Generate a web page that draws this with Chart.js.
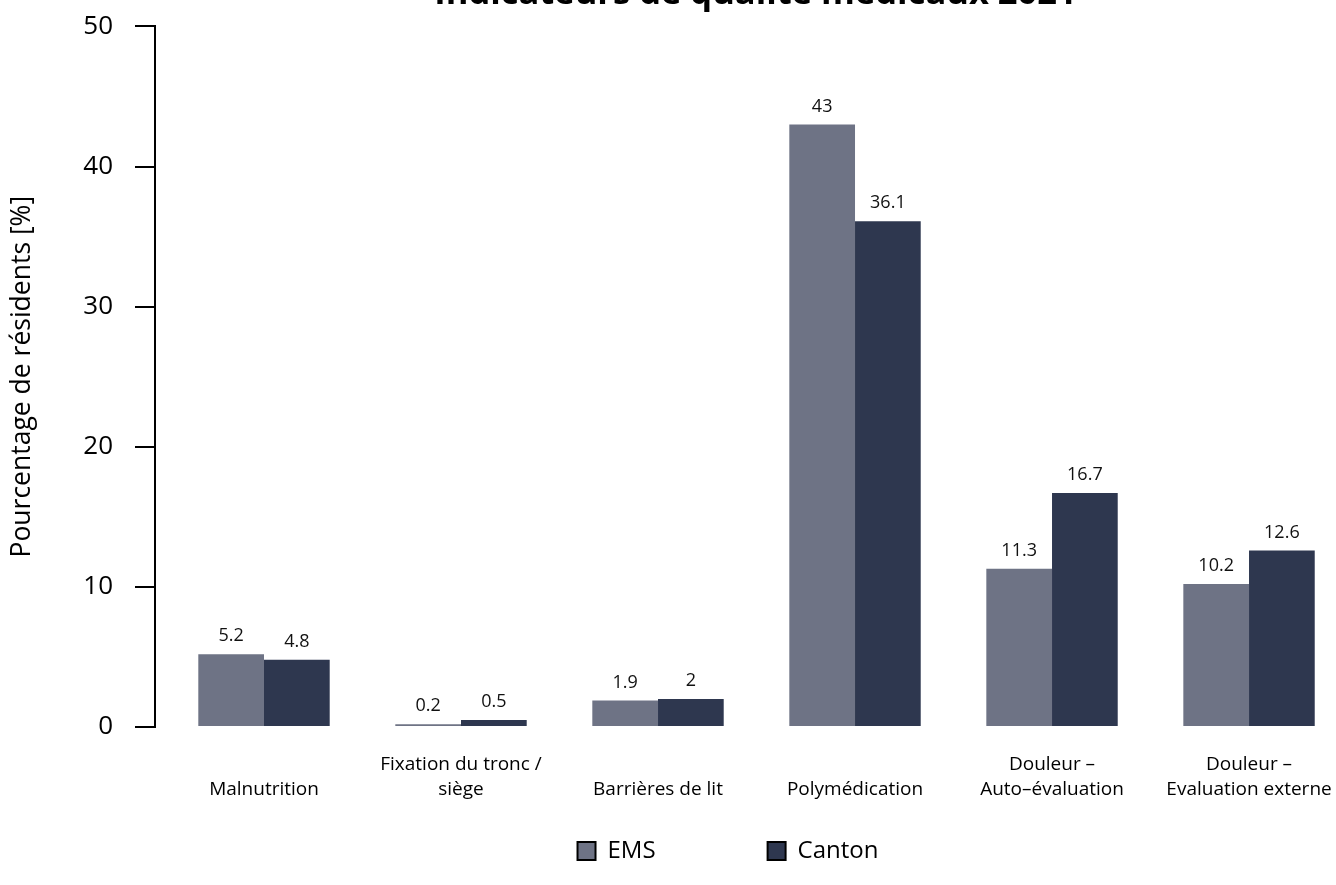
<!DOCTYPE html>
<html><head><meta charset="utf-8">
<script src="https://cdn.jsdelivr.net/npm/chart.js@4.4.1/dist/chart.umd.min.js"></script>
<style>
html,body{margin:0;padding:0;overflow:hidden;background:#fff;width:1336px;height:885px}
#wrap{position:absolute;left:0;top:-27px;width:1456px;height:900px}
</style></head><body>
<div id="wrap"><canvas id="c" width="1456" height="900"></canvas></div>
<script>
const categories = [
  ['', 'Malnutrition'],
  ['Fixation du tronc /', 'siège'],
  ['', 'Barrières de lit'],
  ['', 'Polymédication'],
  ['Douleur –', 'Auto–évaluation'],
  ['Douleur –', 'Evaluation externe']
];
const emsValues = [5.2, 0.2, 1.9, 43, 11.3, 10.2];
const cantonValues = [4.8, 0.5, 2, 36.1, 16.7, 12.6];
const yTicks = [0, 10, 20, 30, 40, 50];
const seriesNames = ['EMS', 'Canton'];
const seriesColors = ['#6e7385', '#2e374f'];

const FONT = "'Open Sans', 'Noto Sans', sans-serif";

const valueLabels = {
  id: 'valueLabels',
  afterDatasetsDraw(chart) {
    const ctx = chart.ctx;
    ctx.save();
    ctx.font = '18px ' + FONT;
    ctx.fillStyle = '#111';
    ctx.textAlign = 'center';
    ctx.textBaseline = 'bottom';
    chart.data.datasets.forEach((ds, di) => {
      const meta = chart.getDatasetMeta(di);
      meta.data.forEach((bar, i) => {
        ctx.fillText(String(ds.data[i].y), bar.x, bar.y - 9);
      });
    });
    ctx.restore();
  }
};

const mk = (vals) => vals.map((v, i) => ({x: i, y: v}));

new Chart(document.getElementById('c'), {
  type: 'bar',
  data: {
    datasets: [
      {label: seriesNames[0], data: mk(emsValues), backgroundColor: seriesColors[0], borderWidth: 0},
      {label: seriesNames[1], data: mk(cantonValues), backgroundColor: seriesColors[1], borderWidth: 0}
    ]
  },
  options: {
    responsive: false,
    devicePixelRatio: 1,
    animation: false,
    layout: {padding: {left: 0, right: 0, top: 0, bottom: 0}},
    datasets: {bar: {categoryPercentage: 0.667, barPercentage: 1, grouped: true}},
    plugins: {
      tooltip: {enabled: false},
      title: {
        display: true,
        fullSize: false,
        text: 'Indicateurs de qualité médicaux 2021',
        color: '#000',
        font: {family: FONT, size: 34.5, weight: 'bold', lineHeight: 1.2},
        padding: {top: 0, bottom: 12}
      },
      legend: {
        position: 'bottom',
        fullSize: true,
        labels: {
          boxWidth: 18, boxHeight: 18, padding: 112,
          color: '#000',
          font: {family: FONT, size: 24},
          generateLabels: (chart) => chart.data.datasets.map((ds, i) => ({
            text: ds.label, fillStyle: ds.backgroundColor, strokeStyle: '#000',
            lineWidth: 2, hidden: false, datasetIndex: i, fontColor: '#000'
          }))
        }
      }
    },
    scales: {
      x: {
        type: 'linear',
        min: -0.5533, max: 5.543,
        offset: false,
        grid: {display: false, drawTicks: false},
        border: {display: false},
        afterFit: (s) => { s.height = 0; },
        ticks: {
          stepSize: 1, autoSkip: false, includeBounds: false, maxRotation: 0, minRotation: 0,
          mirror: true, padding: -50, color: '#000',
          font: {family: FONT, size: 19, lineHeight: 1.33},
          callback: (v) => (Number.isInteger(v) && v >= 0 && v < categories.length) ? categories[v] : ''
        }
      },
      y: {
        min: yTicks[0], max: yTicks[yTicks.length - 1],
        afterFit: (s) => { s.width = 155; },
        afterBuildTicks: (s) => { s.ticks = yTicks.map(v => ({value: v})); },
        grid: {drawOnChartArea: false, tickLength: 20, color: '#000', lineWidth: 2},
        border: {display: true, color: '#000', width: 2},
        ticks: {padding: 22, color: '#000', font: {family: FONT, size: 26}},
        title: {
          display: true, text: 'Pourcentage de résidents [%]', color: '#000',
          font: {family: FONT, size: 26.5}, padding: {top: 7, bottom: 0}
        }
      },
      yRight: {
        axis: 'y',
        position: 'right',
        display: true,
        grid: {display: false},
        border: {display: false},
        ticks: {display: false},
        afterFit: (s) => { s.width = 100; }
      }
    }
  },
  plugins: [valueLabels]
});
</script>
</body></html>
